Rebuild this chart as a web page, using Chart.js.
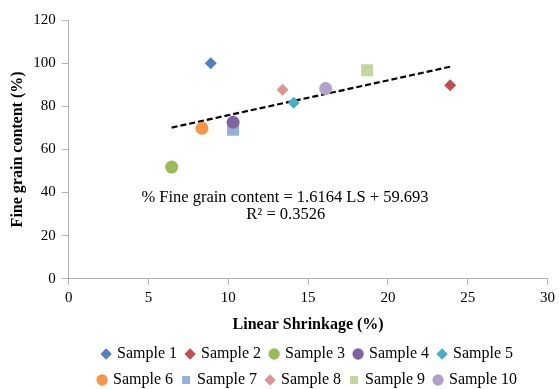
<!DOCTYPE html>
<html>
<head>
<meta charset="utf-8">
<script src="https://cdn.jsdelivr.net/npm/chart.js@4.4.0/dist/chart.umd.min.js"></script>
<style>
  html, body { margin: 0; padding: 0; background: #fff; }
  #wrap { width: 559px; height: 389px; }
</style>
</head>
<body>
<div id="wrap"><canvas id="grafico"></canvas></div>
<script>
var sampleNames = ['Sample 1', 'Sample 2', 'Sample 3', 'Sample 4', 'Sample 5',
                   'Sample 6', 'Sample 7', 'Sample 8', 'Sample 9', 'Sample 10'];
var linearShrinkage = [8.9, 23.9, 6.45, 10.3, 14.1, 8.35, 10.3, 13.4, 18.7, 16.1];
var fineGrain = [100, 89.7, 51.8, 72.6, 81.6, 69.8, 69.1, 87.7, 96.7, 88.2];
var sampleColors = ['#4F81BD', '#C0504D', '#9BBB59', '#8064A2', '#4BACC6',
                    '#F79646', '#95B3D7', '#D99694', '#C3D69B', '#B3A2C7'];
var sampleMarkers = ['rectRot', 'rectRot', 'circle', 'circle', 'rectRot',
                     'circle', 'rect', 'rectRot', 'rect', 'circle'];
var markerSizes = { rectRot: 6, circle: 6.5, rect: 8.5 };

// trend line coefficients (from the equation shown on the chart)
var trendSlope = 1.6164;
var trendIntercept = 59.693;
var trendText = ['% Fine grain content = 1.6164 LS + 59.693', 'R\u00B2 = 0.3526'];

var xTicks = [0, 5, 10, 15, 20, 25, 30];
var yTicks = [0, 20, 40, 60, 80, 100, 120];

var fuente = '"Liberation Serif", "Times New Roman", serif';
Chart.defaults.font.family = fuente;
Chart.defaults.color = '#000';

var datasets = sampleNames.map(function(name, i) {
    return {
        label: name,
        data: [{ x: linearShrinkage[i], y: fineGrain[i] }],
        pointStyle: sampleMarkers[i],
        pointRadius: markerSizes[sampleMarkers[i]],
        pointHoverRadius: markerSizes[sampleMarkers[i]],
        backgroundColor: sampleColors[i],
        borderColor: sampleColors[i],
        borderWidth: 0
    };
});

var xMin = Math.min.apply(null, linearShrinkage);
var xMax = Math.max.apply(null, linearShrinkage);
datasets.push({
    label: 'Trend',
    data: [
        { x: xMin, y: trendSlope * xMin + trendIntercept },
        { x: xMax, y: trendSlope * xMax + trendIntercept }
    ],
    showLine: true,
    borderColor: '#000',
    borderWidth: 2.2,
    borderDash: [6, 3],
    pointRadius: 0
});

var ecuacionPlugin = {
    id: 'ecuacion',
    afterDatasetsDraw: function(chart) {
        var ctx = chart.ctx;
        var xs = chart.scales.x, ys = chart.scales.y;
        ctx.save();
        ctx.fillStyle = '#000';
        ctx.font = '16.5px ' + fuente;
        ctx.textAlign = 'center';
        ctx.textBaseline = 'middle';
        ctx.fillText(trendText[0], xs.getPixelForValue(13.55), ys.getPixelForValue(37.4));
        ctx.fillText(trendText[1], xs.getPixelForValue(13.6), ys.getPixelForValue(29.9));
        ctx.restore();
    }
};

var grafico = new Chart(document.getElementById('grafico').getContext('2d'), {
    type: 'scatter',
    data: { datasets: datasets },
    options: {
        responsive: true,
        maintainAspectRatio: false,
        animation: false,
        layout: { padding: { top: 20, right: 0, left: 8, bottom: -9 } },
        plugins: {
            tooltip: { enabled: false },
            legend: {
                position: 'bottom',
                fullSize: false,
                labels: {
                    usePointStyle: true,
                    boxWidth: 6,
                    boxHeight: 8,
                    padding: 10,
                    font: { size: 16, family: fuente },
                    filter: function(item) { return item.datasetIndex < sampleNames.length; }
                }
            }
        },
        scales: {
            x: {
                type: 'linear',
                min: 0,
                max: 30,
                afterBuildTicks: function(axis) { axis.ticks = xTicks.map(function(v) { return { value: v }; }); },
                border: { color: '#b3b3b3', width: 1 },
                grid: { drawOnChartArea: false, drawTicks: true, tickLength: 6, color: '#b3b3b3' },
                ticks: { font: { size: 15 }, padding: 4 },
                title: { display: true, text: 'Linear Shrinkage (%)', font: { size: 16, weight: 'bold' }, padding: { top: 4, bottom: 2 } }
            },
            y: {
                type: 'linear',
                min: 0,
                max: 120,
                afterBuildTicks: function(axis) { axis.ticks = yTicks.map(function(v) { return { value: v }; }); },
                border: { color: '#b3b3b3', width: 1 },
                grid: { drawOnChartArea: false, drawTicks: true, tickLength: 7, color: '#b3b3b3' },
                ticks: { font: { size: 15 }, padding: 6 },
                title: { display: true, text: 'Fine grain content (%)', font: { size: 16, weight: 'bold' }, padding: { top: 0, bottom: 0 } }
            }
        }
    },
    plugins: [ecuacionPlugin]
});
</script>
</body>
</html>
